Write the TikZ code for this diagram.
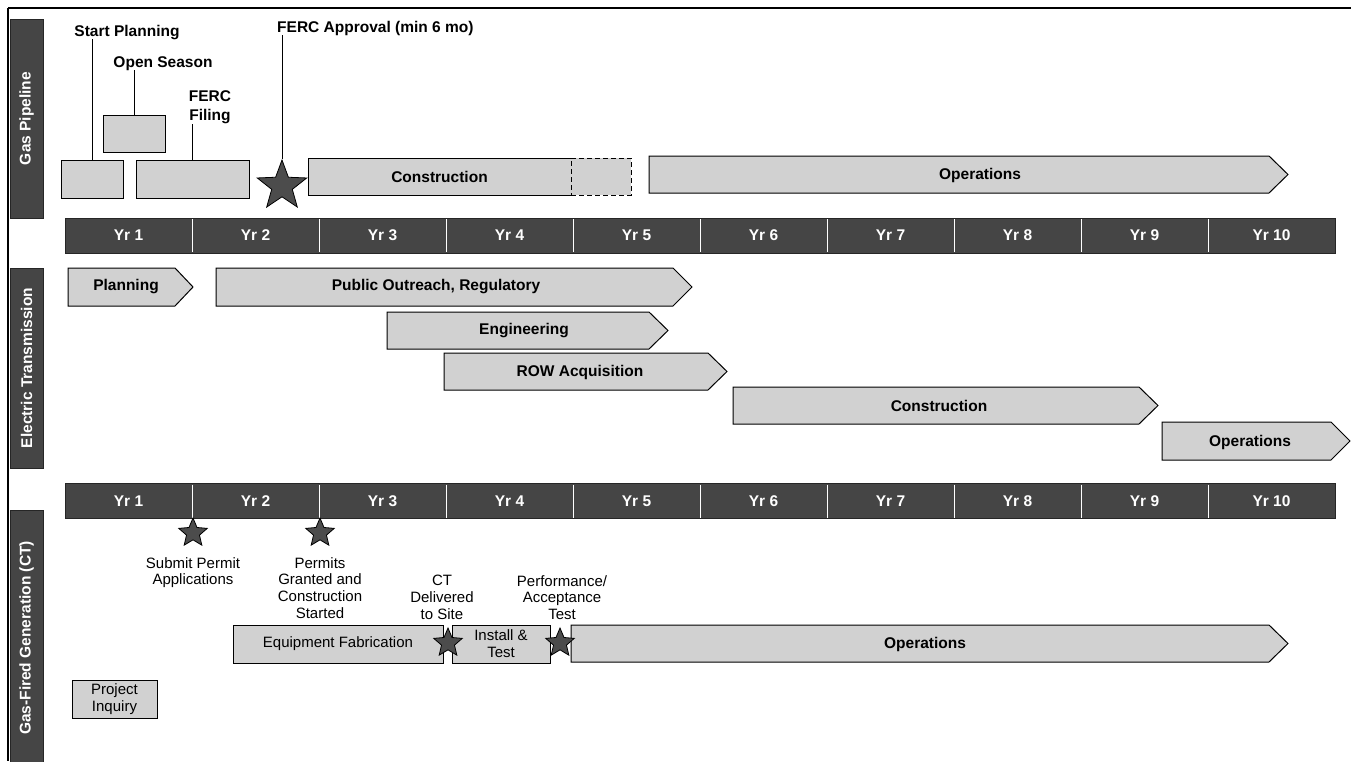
\documentclass[tikz,border=0pt]{standalone}
\usepackage{fontspec}
\setmainfont{Liberation Sans}
\usetikzlibrary{shapes.geometric}

\tikzset{
  box/.style={draw, line width=1pt, fill=black!18, inner sep=0pt},
  lbl/.style={font=\fontsize{15.5}{19}\selectfont\bfseries, inner sep=0pt, align=center},
  note/.style={font=\fontsize{15}{16.8}\selectfont, inner sep=0pt, align=center},
  yrbar/.style={fill=black!73, draw=black!85},
  yr/.style={font=\fontsize{15.5}{17}\selectfont\bfseries, text=white, inner sep=0pt},
  side/.style={fill=black!73, draw=black!85, rotate=90, text=white, inner sep=0pt,
    font=\fontsize{15.5}{17}\selectfont\bfseries},
  mstar/.style={star, star points=5, star point ratio=2.4, fill=black!70, draw=black,
    line width=0.8pt, inner sep=0pt},
}

\begin{document}
\begin{tikzpicture}[x=1pt,y=-1pt]
  \useasboundingbox (0,0) rectangle (1351,761);
  % frame
  \draw[line width=2.4pt] (8,8) -- (1351,8);
  \draw[line width=2.2pt] (8,8) -- (8,761);

  % side labels
  \node[side, minimum width=199pt, minimum height=33pt] (sideGP) at (26.5,118.5) {Gas Pipeline};
  \node[side, minimum width=200pt, minimum height=33pt] (sideET) at (26.5,368) {Electric Transmission};
  \node[side, minimum width=256pt, minimum height=33pt] (sideCT) at (26.5,638) {Gas-Fired Generation (CT)};

  % year bars
  \foreach \row/\y in {A/235.5,B/501} {
    \draw[yrbar] (65,\y-17.5) rectangle (1335,\y+17.5);
    \foreach \i in {1,...,10}
      \node[yr] (yr\row\i) at ({65+127*(\i-0.5)},\y) {Yr \i};
    \foreach \i in {1,...,9}
      \draw[white, line width=1pt] ({65+127*\i},\y-16.5) -- ({65+127*\i},\y+16.5);
  }

  % gas pipeline
  \node[box, minimum width=62pt, minimum height=38pt] (gpStart) at (92,179) {};
  \node[box, minimum width=62pt, minimum height=37pt] (gpOpen) at (134,133.5) {};
  \node[box, minimum width=113pt, minimum height=38pt] (gpFiling) at (192.5,179) {};
  \node[box, lbl, minimum width=263pt, minimum height=37pt] (gpCons) at (439.5,176.5) {Construction};
  \node[box, dash pattern=on 5pt off 3pt, minimum width=60pt, minimum height=37pt] (gpMore) at (601,176.5) {};
  \draw[box] (649,156) -- (1269,156) -- (1288,174.5) -- (1269,193) -- (649,193) -- cycle;
  \node[lbl] (gpOps) at (980,175) {Operations};
  \node[mstar, minimum size=52pt] (fercStar) at (282,186) {};

  \node[lbl, anchor=base] (startLbl) at (127,36) {Start Planning};
  \node[lbl, anchor=base] (openLbl) at (163,67) {Open Season};
  \node[lbl, anchor=south] (filingLbl) at (210,124) {FERC\\Filing};
  \node[lbl, anchor=base west] (apprLbl) at (277,32) {FERC Approval (min 6 mo)};

  \draw[line width=1pt] (gpStart.north) -- (gpStart.north |- startLbl.south);
  \draw[line width=1pt] (gpOpen.north) -- (gpOpen.north |- openLbl.south);
  \draw[line width=1pt] (gpFiling.north) -- (gpFiling.north |- filingLbl.south);
  \draw[line width=1pt] (fercStar.north) -- (fercStar.north |- apprLbl.south);

  % electric transmission
  \draw[box] (68,268) -- (175,268) -- (193,287) -- (175,306) -- (68,306) -- cycle;
  \node[lbl] (etPlan) at (126,287) {Planning};
  \draw[box] (216,268) -- (673,268) -- (692,287) -- (673,306) -- (216,306) -- cycle;
  \node[lbl] (etPublic) at (436,287) {Public Outreach, Regulatory};
  \draw[box] (387,312) -- (649,312) -- (668,330.5) -- (649,349) -- (387,349) -- cycle;
  \node[lbl] (etEng) at (524,331) {Engineering};
  \draw[box] (444,353) -- (708,353) -- (727,371.5) -- (708,390) -- (444,390) -- cycle;
  \node[lbl] (etRow) at (580,372) {ROW Acquisition};
  \draw[box] (733,387) -- (1139,387) -- (1158,405.5) -- (1139,424) -- (733,424) -- cycle;
  \node[lbl] (etCons) at (939,406) {Construction};
  \draw[box] (1162,422) -- (1331,422) -- (1350,441) -- (1331,460) -- (1162,460) -- cycle;
  \node[lbl] (etOps) at (1250,442) {Operations};

  % gas-fired generation
  \node[mstar, star point ratio=2.2, minimum size=30pt] (stSubmit) at (193,533) {};
  \node[mstar, star point ratio=2.2, minimum size=30pt] (stPermit) at (320,533) {};
  \node[note, anchor=north] (submitLbl) at (193,557) {Submit Permit\\Applications};
  \node[note, anchor=north] (permitLbl) at (320,557) {Permits\\Granted and\\Construction\\Started};
  \node[note, anchor=north] (deliverLbl) at (442,575) {CT\\Delivered\\to Site};
  \node[note, anchor=north] (perfLbl) at (562,575) {Performance/\\Acceptance\\Test};

  \node[box, note, minimum width=210pt, minimum height=38pt] (ctFab) at (338,644) {Equipment Fabrication};
  \node[box, note, minimum width=98pt, minimum height=38pt] (ctInst) at (501,644) {Install \&\\Test};
  \draw[box] (571,625) -- (1269,625) -- (1288,643.5) -- (1269,662) -- (571,662) -- cycle;
  \node[lbl] (ctOps) at (925,644) {Operations};
  \node[mstar, star point ratio=2.2, minimum size=30pt] (stDeliver) at (448,643) {};
  \node[mstar, star point ratio=2.2, minimum size=30pt] (stPerf) at (560,643) {};
  \node[box, note, minimum width=85pt, minimum height=38pt] (ctInq) at (114.5,699) {Project\\Inquiry};
\end{tikzpicture}
\end{document}
